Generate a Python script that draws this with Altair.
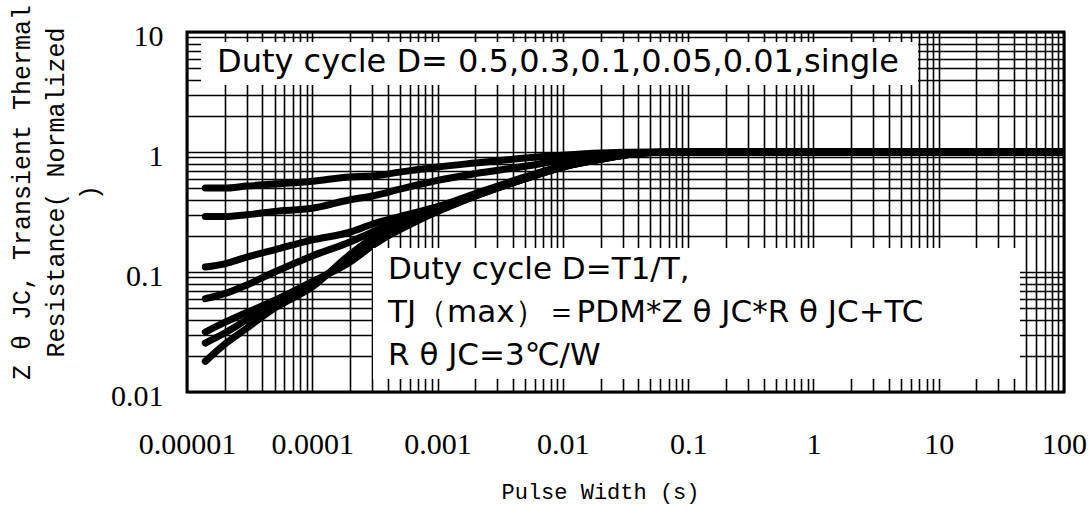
import altair as alt
import pandas as pd

# Pulse widths (s) at which each transient thermal impedance curve is sampled
pulse_width = [1.4e-5, 2e-5, 3e-5, 5e-5, 1e-4, 2e-4, 3e-4, 5e-4, 1e-3, 2e-3,
               5e-3, 1e-2, 2e-2, 5e-2, 1e-1, 1, 10, 100]

# Normalized Z(theta)JC for each duty cycle
curve_names = ["D=0.5", "D=0.3", "D=0.1", "D=0.05", "D=0.02", "D=0.01", "single"]
z_d050 = [0.50, 0.50, 0.52, 0.54, 0.57, 0.62, 0.63, 0.68, 0.75, 0.81, 0.89, 0.94, 0.98, 1.0, 1.0, 1.0, 1.0, 1.0]
z_d030 = [0.29, 0.29, 0.30, 0.32, 0.34, 0.40, 0.43, 0.49, 0.58, 0.66, 0.76, 0.86, 0.94, 0.99, 1.0, 1.0, 1.0, 1.0]
z_d010 = [0.11, 0.117, 0.133, 0.153, 0.185, 0.215, 0.25, 0.29, 0.35, 0.45, 0.62, 0.77, 0.89, 0.99, 1.0, 1.0, 1.0, 1.0]
z_d005 = [0.060, 0.066, 0.078, 0.10, 0.136, 0.178, 0.215, 0.27, 0.34, 0.44, 0.61, 0.76, 0.88, 0.99, 1.0, 1.0, 1.0, 1.0]
z_d002 = [0.0316, 0.038, 0.046, 0.058, 0.083, 0.121, 0.165, 0.23, 0.33, 0.43, 0.60, 0.75, 0.87, 0.99, 1.0, 1.0, 1.0, 1.0]
z_d001 = [0.0256, 0.031, 0.040, 0.054, 0.079, 0.13, 0.17, 0.225, 0.32, 0.43, 0.60, 0.75, 0.87, 0.99, 1.0, 1.0, 1.0, 1.0]
z_single = [0.018, 0.025, 0.034, 0.050, 0.075, 0.14, 0.19, 0.24, 0.32, 0.43, 0.60, 0.75, 0.87, 0.99, 1.0, 1.0, 1.0, 1.0]
z_series = [z_d050, z_d030, z_d010, z_d005, z_d002, z_d001, z_single]

# Decade ticks and their labels
x_decades = [0.00001, 0.0001, 0.001, 0.01, 0.1, 1, 10, 100]
x_decade_labels = ["0.00001", "0.0001", "0.001", "0.01", "0.1", "1", "10", "100"]
y_decades = [0.01, 0.1, 1, 10]
y_decade_labels = ["0.01", "0.1", "1", "10"]

# Annotation texts
duty_note = "Duty cycle D= 0.5,0.3,0.1,0.05,0.01,single"
formula_lines = ["Duty cycle D=T1/T,", "TJ（max）＝PDM*Z θ JC*R θ JC+TC", "R θ JC=3℃/W"]

rows = [
    {"t": t, "z": z, "curve": name}
    for name, zs in zip(curve_names, z_series)
    for t, z in zip(pulse_width, zs)
]
df = pd.DataFrame(rows)


def log_grid(decades):
    """1..9 x each decade, plus the closing decade."""
    vals = []
    for d in decades[:-1]:
        vals.extend(m * d for m in range(1, 10))
    vals.append(decades[-1])
    return vals


def decade_label_expr(decades, labels):
    expr = "''"
    for d, lab in zip(reversed(decades), reversed(labels)):
        expr = f"datum.value == {lab} ? '{lab}' : ({expr})"
    return expr


W, H = 877, 360
LABEL_FONT = "Liberation Serif"
TITLE_FONT = "Liberation Mono"
NOTE_FONT = "DejaVu Sans"

x_enc = alt.X(
    "t:Q",
    scale=alt.Scale(type="log", domain=[x_decades[0], x_decades[-1]], nice=False),
    axis=alt.Axis(
        values=log_grid(x_decades),
        labelExpr=decade_label_expr(x_decades, x_decade_labels),
        title="Pulse Width (s)",
        ticks=False,
        domain=False,
        labelFlush=False,
        labelOverlap=False,
        labelPadding=37,
        labelFont=LABEL_FONT,
        labelFontSize=30,
        titleFont=TITLE_FONT,
        titleFontSize=22,
        titleFontWeight="normal",
        titleX=413,
        titleY=99,
        titleBaseline="middle",
        titleAlign="center",
    ),
)
y_enc = alt.Y(
    "z:Q",
    scale=alt.Scale(type="log", domain=[y_decades[0], y_decades[-1]], nice=False),
    axis=alt.Axis(
        values=log_grid(y_decades),
        labelExpr=decade_label_expr(y_decades, y_decade_labels),
        title=["Z θ JC, Transient Thermal", "Resistance( Normalized", ")"],
        ticks=False,
        domain=False,
        labelFlush=False,
        labelOverlap=False,
        labelPadding=24,
        labelOffset=4,
        labelFont=LABEL_FONT,
        labelFontSize=30,
        titleFont=TITLE_FONT,
        titleFontSize=25,
        titleFontWeight="normal",
        titleLineHeight=34,
        titleX=-178,
        titleY=160,
        titleBaseline="top",
    ),
)

curves = alt.Chart(df).mark_line(
    color="black", strokeWidth=7, strokeCap="round", strokeJoin="round",
    interpolate="monotone", clip=True,
).encode(x=x_enc, y=y_enc, detail="curve:N")

one = pd.DataFrame({"k": [0]})

# White text boxes laid over the grid
top_box = alt.Chart(one).mark_rect(color="white", opacity=1).encode(
    x=alt.value(14), x2=alt.value(731), y=alt.value(10), y2=alt.value(53)
)
formula_box = alt.Chart(one).mark_rect(color="white", opacity=1).encode(
    x=alt.value(186), x2=alt.value(833), y=alt.value(216), y2=alt.value(347)
)

top_text = alt.Chart(one).mark_text(
    text=duty_note, font=NOTE_FONT, fontSize=32, align="left",
    baseline="alphabetic", color="black",
).encode(x=alt.value(30), y=alt.value(40))

formula_texts = [
    alt.Chart(one).mark_text(
        text=line, font=NOTE_FONT, fontSize=31, align="left",
        baseline="alphabetic", color="black",
    ).encode(x=alt.value(201), y=alt.value(247 + 43 * i))
    for i, line in enumerate(formula_lines)
]

chart = alt.layer(curves, top_box, formula_box, top_text, *formula_texts).properties(
    width=W,
    height=H,
    padding={"left": 187, "top": 32, "right": 26, "bottom": 123},
    autosize=alt.AutoSizeParams(type="none"),
    background="white",
).configure_axis(
    grid=True,
    gridColor="black",
    gridWidth=1.6,
    gridOpacity=1,
    labelColor="black",
    titleColor="black",
).configure_view(
    stroke="black",
    strokeWidth=3,
)

chart.save("out.html", embed_options={"renderer": "svg", "actions": False})
